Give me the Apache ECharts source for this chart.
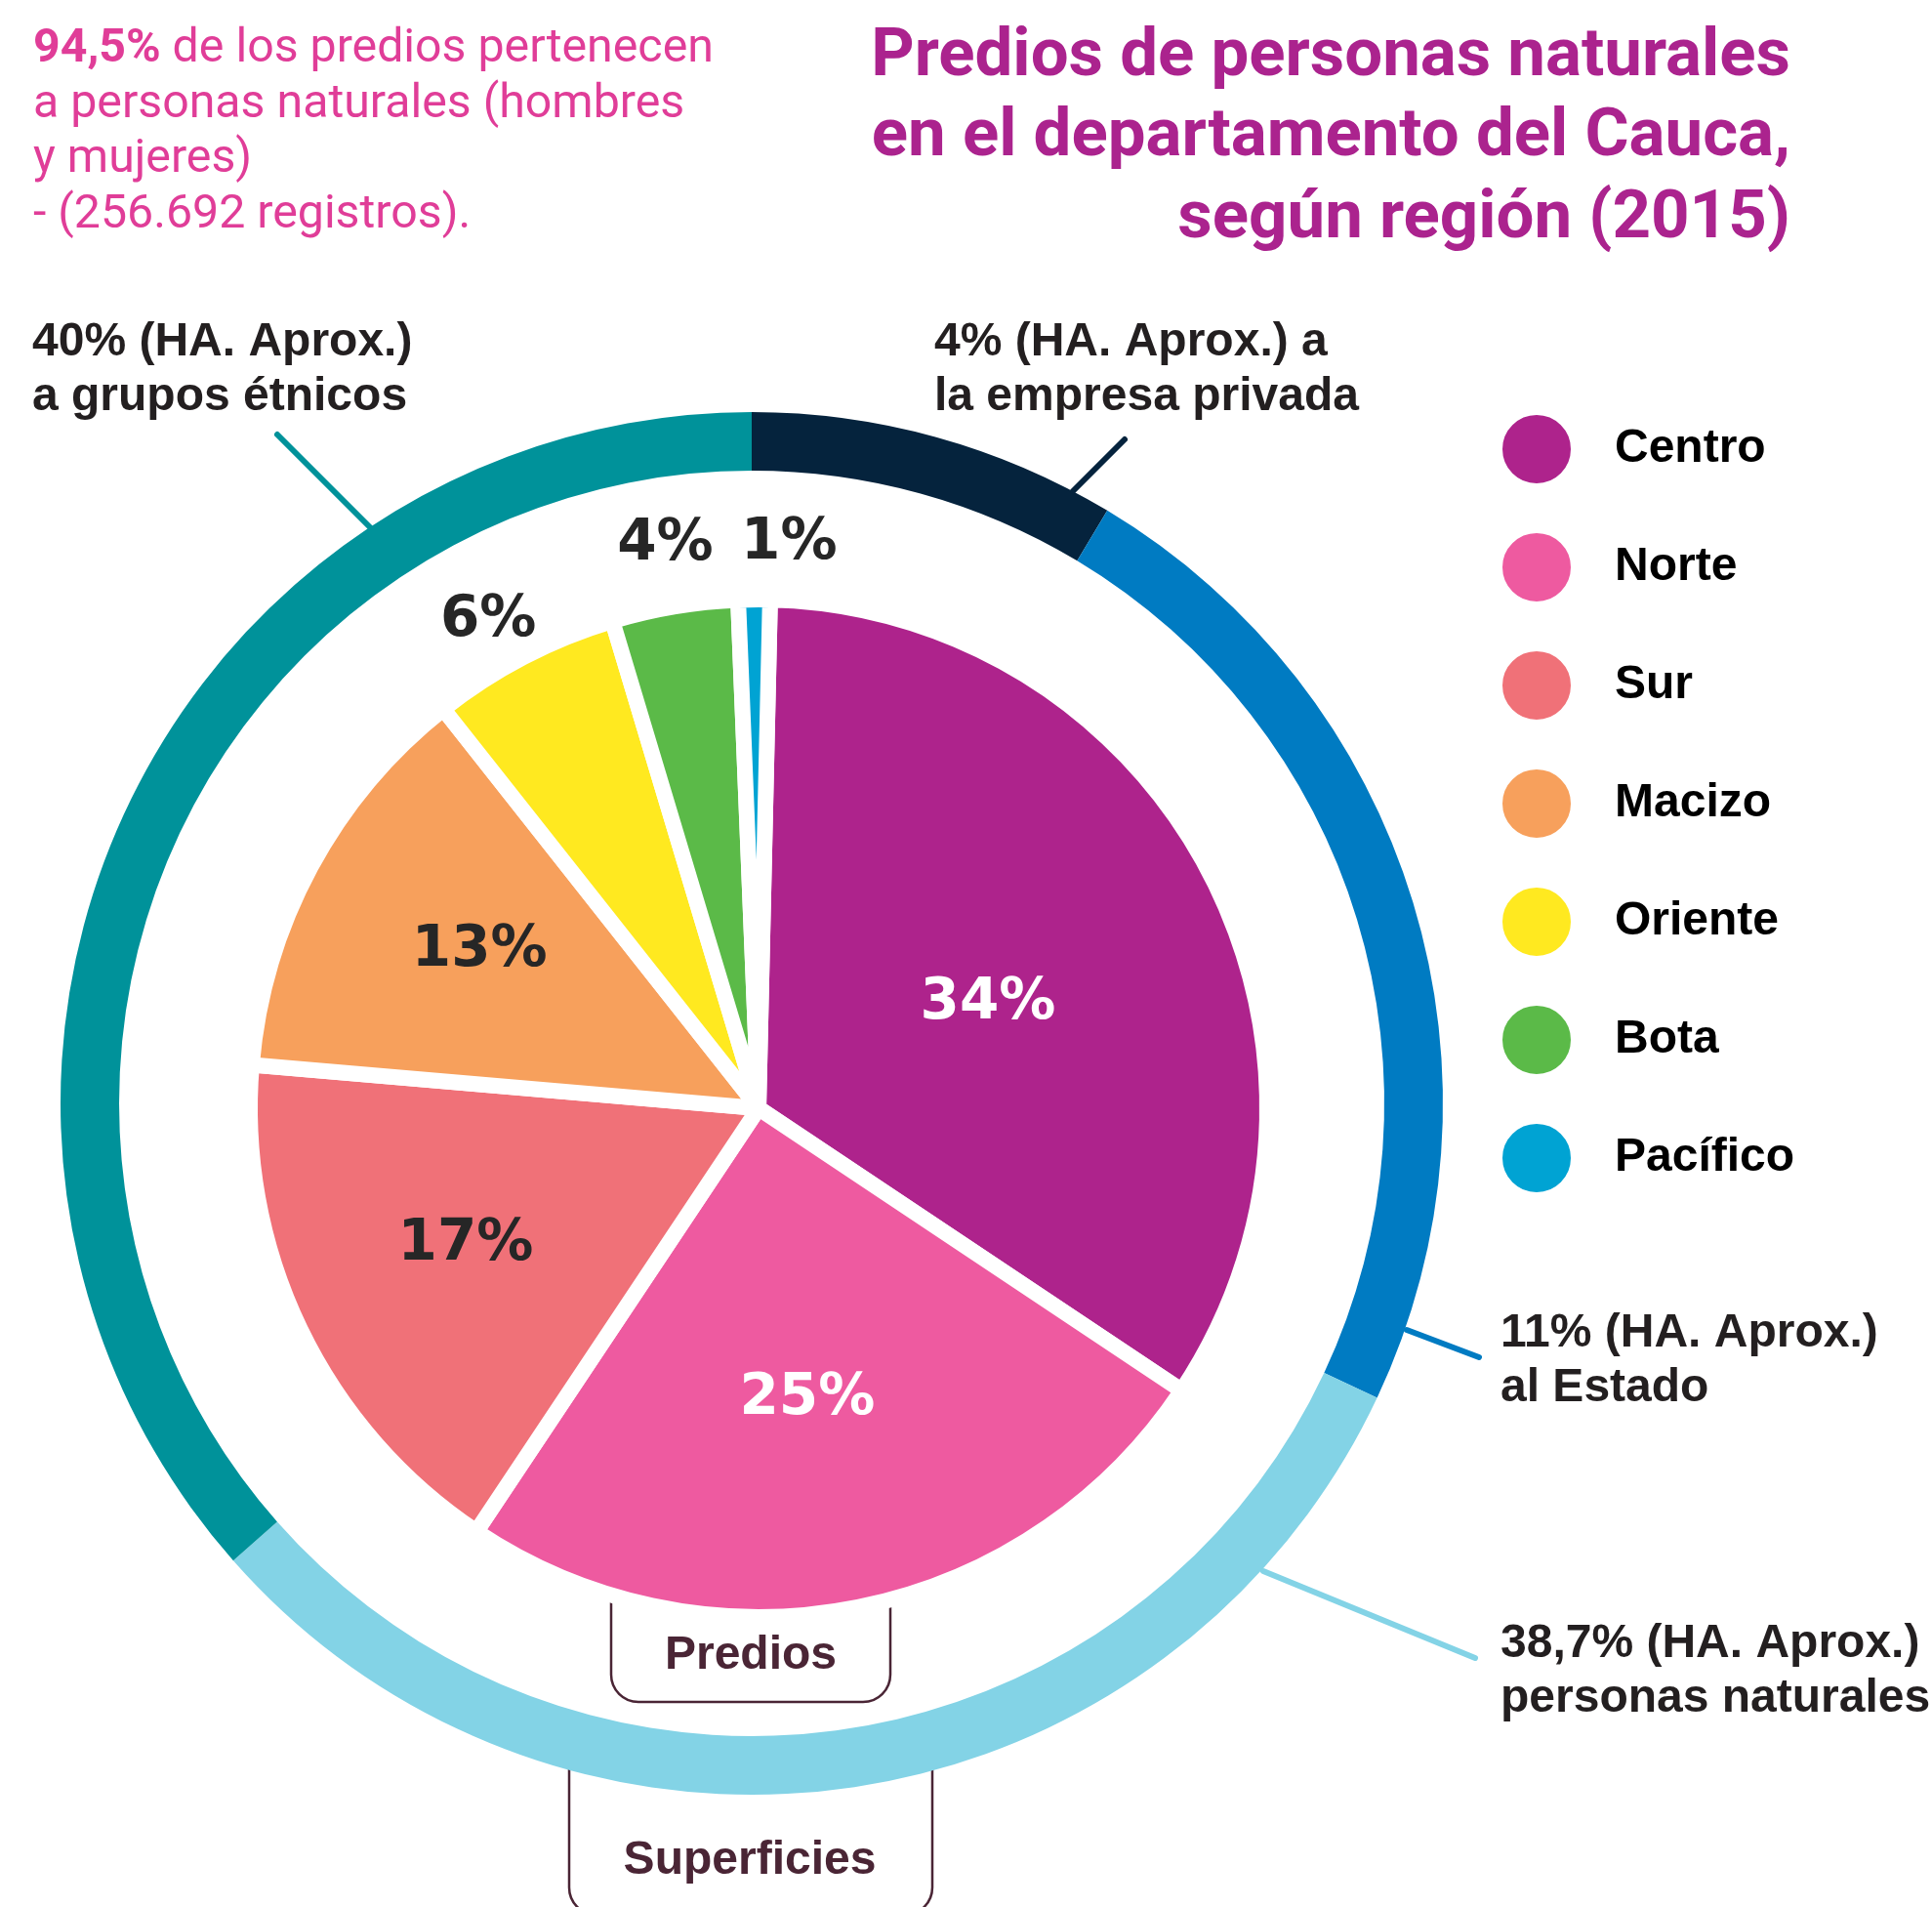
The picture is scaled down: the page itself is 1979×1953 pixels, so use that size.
<!DOCTYPE html>
<html>
<head>
<meta charset="utf-8">
<script src="https://cdn.jsdelivr.net/npm/echarts@6/dist/echarts.min.js"></script>
<style>
  html, body { margin: 0; padding: 0; background: #fff; }
  #main { width: 1979px; height: 1953px; }
</style>
</head>
<body>
<div id="main"></div>
<script>
// regiones (predios de personas naturales, %)
const regiones = ['Centro', 'Norte', 'Sur', 'Macizo', 'Oriente', 'Bota', 'Pacífico'];
const prediosPct = [34, 25, 17, 13, 6, 4, 1];
const regionColors = ['#AE238C', '#EE5AA0', '#F07178', '#F7A05C', '#FFE920', '#5BBA48', '#00A3D3'];

// anillo exterior: superficies (arcos tal como se dibujan)
const superficieNombres = ['empresa privada', 'Estado', 'personas naturales', 'grupos étnicos'];
const superficieArco = [8.6, 23.4, 31.5, 36.5];
const superficieColors = ['#05233D', '#007BC2', '#83D3E6', '#00929A'];

// textos de anotación
const notaEtnicos = ['40% (HA. Aprox.)', 'a grupos étnicos'];
const notaPrivada = ['4% (HA. Aprox.) a', 'la empresa privada'];
const notaEstado = ['11% (HA. Aprox.)', 'al Estado'];
const notaNaturales = ['38,7% (HA. Aprox.)', 'personas naturales.'];
const titulo = ['Predios de personas naturales', 'en el departamento del Cauca,', 'según región (2015)'];
const subtitulo = ['de los predios pertenecen', 'a personas naturales (hombres', 'y mujeres)', '- (256.692 registros).'];

let chart = echarts.init(document.getElementById('main'));

const PIE_CX = 777, PIE_CY = 1135;
const START = 1.3;   // grados desde arriba, sentido horario
// radio de cada etiqueta y pequeño giro
const labelR = [258, 302, 331, 328, 571, 585, 579];
const labelNudge = [3.1, 1.8, 0.7, 1.1, -1.5, 0.1, 3.6];
const total = prediosPct.reduce((a, b) => a + b, 0);
let acc = 0;
const midAngle = prediosPct.map(v => {
  const m = START + (acc + v / 2) / total * 360;
  acc += v;
  return m;
});

const NOTE_FONT = { fontFamily: 'Liberation Sans', fontWeight: 'bold', fontSize: 48, fill: '#231F20' };

function noteLines(lines, x, y0) {   // y0 = baseline primera linea
  return lines.map((t, i) => ({
    type: 'text', x: x, y: y0 + i * 56 - 16.6, z: 10,
    style: Object.assign({ text: t, verticalAlign: 'middle', align: 'left' }, NOTE_FONT)
  }));
}

function leader(x1, y1, x2, y2, color) {
  return {
    type: 'line', z: 10,
    shape: { x1: x1, y1: y1, x2: x2, y2: y2 },
    style: { stroke: color, lineWidth: 6, lineCap: 'round' }
  };
}

let graphics = [];
// cajas de Predios / Superficies (debajo de las tartas)
graphics.push({
  type: 'rect', z: 0,
  shape: { x: 626, y: 1560, width: 286, height: 183, r: 28 },
  style: { fill: '#fff', stroke: '#4A2535', lineWidth: 2.5 }
});
graphics.push({
  type: 'rect', z: 0,
  shape: { x: 583, y: 1790, width: 372, height: 171, r: [10, 10, 28, 28] },
  style: { fill: '#fff', stroke: '#4A2535', lineWidth: 2.5 }
});
graphics.push({
  type: 'text', x: 769, y: 1712 - 16.6, z: 10,
  style: { text: 'Predios', align: 'center', verticalAlign: 'middle', fontFamily: 'Liberation Sans', fontWeight: 'bold', fontSize: 48, fill: '#4A2535' }
});
graphics.push({
  type: 'text', x: 768, y: 1922 - 16.6, z: 10,
  style: { text: 'Superficies', align: 'center', verticalAlign: 'middle', fontFamily: 'Liberation Sans', fontWeight: 'bold', fontSize: 48, fill: '#4A2535' }
});

// titulo
titulo.forEach((t, i) => {
  graphics.push({
    type: 'text', x: 1834, y: [84, 166, 250][i] - 23.8, z: 10,
    style: { text: t, align: 'right', verticalAlign: 'middle', fontFamily: 'Roboto', fontWeight: 'bold', fontSize: 69, fill: '#AB238E' }
  });
});

// subtitulo
subtitulo.forEach((t, i) => {
  const first = i === 0;
  graphics.push({
    type: 'text', x: 34, y: 68 + i * 56.5 - 16.9, z: 10, scaleX: 0.985,
    style: {
      text: first ? '{b|94,5%} ' + t : t,
      align: 'left', verticalAlign: 'middle',
      fontFamily: 'Roboto', fontSize: 49, fill: '#E03D98',
      rich: { b: { fontFamily: 'Roboto', fontWeight: 'bold', fontSize: 49, fill: '#E03D98' } }
    }
  });
});

graphics = graphics.concat(
  noteLines(notaEtnicos, 33, 367),
  noteLines(notaPrivada, 957, 367),
  noteLines(notaEstado, 1537, 1382),
  noteLines(notaNaturales, 1537, 1700),
  [
    leader(284, 445, 379, 540, superficieColors[3]),
    leader(1152, 450, 1099, 503, superficieColors[0]),
    leader(1515, 1390, 1441, 1362, superficieColors[1]),
    leader(1511, 1698, 1294, 1609, superficieColors[2])
  ]
);

let option = {
  backgroundColor: '#fff',
  animation: false,
  legend: {
    orient: 'vertical',
    left: 1532,
    top: 418,
    data: regiones,
    icon: 'circle',
    itemWidth: 72,
    itemHeight: 72,
    itemGap: 47,
    selectedMode: false,
    textStyle: {
      fontFamily: 'Liberation Sans', fontWeight: 'bold', fontSize: 48, color: '#000',
      padding: [0, 0, 0, 39]
    }
  },
  graphic: graphics,
  series: [
    {   // anillo superficies
      type: 'pie',
      center: [770, 1130],
      radius: [648, 708],
      startAngle: 90,
      silent: true,
      label: { show: false },
      labelLine: { show: false },
      data: superficieNombres.map((n, i) => ({
        name: n, value: superficieArco[i], itemStyle: { color: superficieColors[i] }
      }))
    },
    {   // tarta de predios
      type: 'pie',
      center: [PIE_CX, PIE_CY],
      radius: 521,
      startAngle: 90 - START,
      silent: true,
      avoidLabelOverlap: false,
      itemStyle: { borderColor: '#fff', borderWidth: 16 },
      label: {
        show: true,
        position: 'inside',
        fontFamily: 'DejaVu Sans',
        fontWeight: 'bold',
        fontSize: 58,
        formatter: p => p.value + '%'
      },
      labelLine: { show: false },
      labelLayout: function (p) {
        const a = (midAngle[p.dataIndex] + labelNudge[p.dataIndex]) * Math.PI / 180;
        const r = labelR[p.dataIndex];
        return {
          x: PIE_CX + r * Math.sin(a),
          y: PIE_CY - r * Math.cos(a),
          align: 'center',
          verticalAlign: 'middle'
        };
      },
      data: regiones.map((n, i) => ({
        name: n,
        value: prediosPct[i],
        itemStyle: { color: regionColors[i] },
        label: { color: i < 2 ? '#fff' : '#262626' }
      }))
    }
  ]
};

chart.setOption(option);
</script>
</body>
</html>
